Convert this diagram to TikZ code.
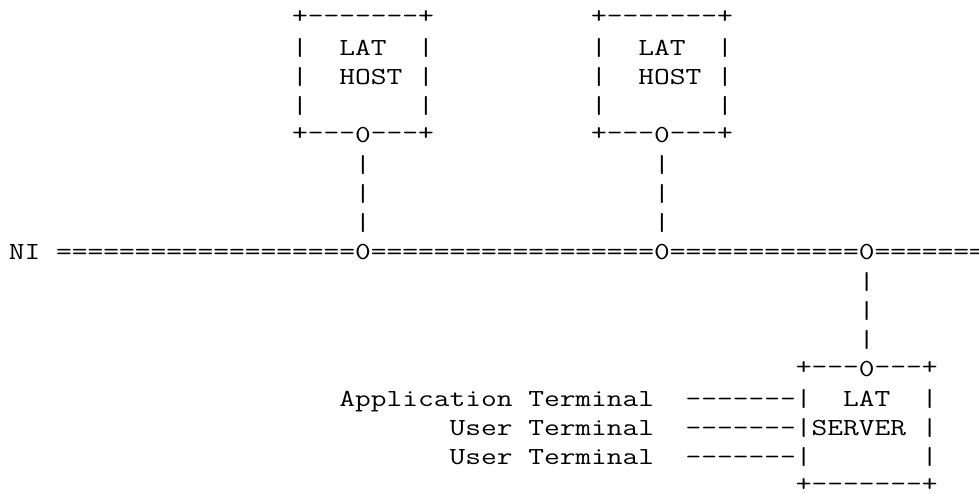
\documentclass[tikz,border=0pt]{standalone}
\usepackage{fontspec}
\newlength\cw
\newcommand\skp[1]{\hspace*{#1\cw}}
\newcommand\asciifont{\ttfamily\fontsize{24.5pt}{29.25pt}\selectfont}
\newcommand\up[1]{\raisebox{2.2pt}{#1}}
\tikzset{
  txtrow/.style={anchor=base west, inner sep=0pt, outer sep=0pt, font=\asciifont, text=black,
                 xscale=\xsc, transform shape},
}
\begin{document}
\settowidth{\cw}{\asciifont 0}
\pgfmathsetmacro\xsc{15.74pt/\cw}
\begin{tikzpicture}
\useasboundingbox[fill=white] (0,0) rectangle (979pt,-493pt);
\begin{scope}[shift={(8.85pt,-25.75pt)}, x=15.74pt, y=-29.25pt]
% LAT host 1
\node[txtrow] (hAtop) at (18,0) {\up{+-------+}};
\node[txtrow] (hAl1)  at (18,1) {|\skp{2}LAT\skp{2}|};
\node[txtrow] (hAl2)  at (18,2) {|\skp{2}HOST\skp{1}|};
\node[txtrow] (hAl3)  at (18,3) {|\skp{7}|};
\node[txtrow] (hAbot) at (18,4) {\up{+---}0\up{---+}};
% LAT host 2
\node[txtrow] (hBtop) at (37,0) {\up{+-------+}};
\node[txtrow] (hBl1)  at (37,1) {|\skp{2}LAT\skp{2}|};
\node[txtrow] (hBl2)  at (37,2) {|\skp{2}HOST\skp{1}|};
\node[txtrow] (hBl3)  at (37,3) {|\skp{7}|};
\node[txtrow] (hBbot) at (37,4) {\up{+---}0\up{---+}};
% drops to the network
\node[txtrow] (dA1) at (22,5) {|};
\node[txtrow] (dA2) at (22,6) {|};
\node[txtrow] (dA3) at (22,7) {|};
\node[txtrow] (dB1) at (41,5) {|};
\node[txtrow] (dB2) at (41,6) {|};
\node[txtrow] (dB3) at (41,7) {|};
% network line
\node[txtrow] (ni) at (0,8) {NI\skp{1}===================0==================0============0=======};
% drop to server
\node[txtrow] (dS1) at (54,9) {|};
\node[txtrow] (dS2) at (54,10) {|};
\node[txtrow] (dS3) at (54,11) {|};
% LAT server
\node[txtrow] (sTop) at (50,12) {\up{+---}0\up{---+}};
\node[txtrow] (sL1) at (21,13) {Application\skp{1}Terminal\skp{2}-------|\skp{2}LAT\skp{2}|};
\node[txtrow] (sL2) at (28,14) {User\skp{1}Terminal\skp{2}-------|SERVER\skp{1}|};
\node[txtrow] (sL3) at (28,15) {User\skp{1}Terminal\skp{2}-------|\skp{7}|};
\node[txtrow] (sBot) at (50,16) {\up{+-------+}};
\end{scope}
\end{tikzpicture}
\end{document}
